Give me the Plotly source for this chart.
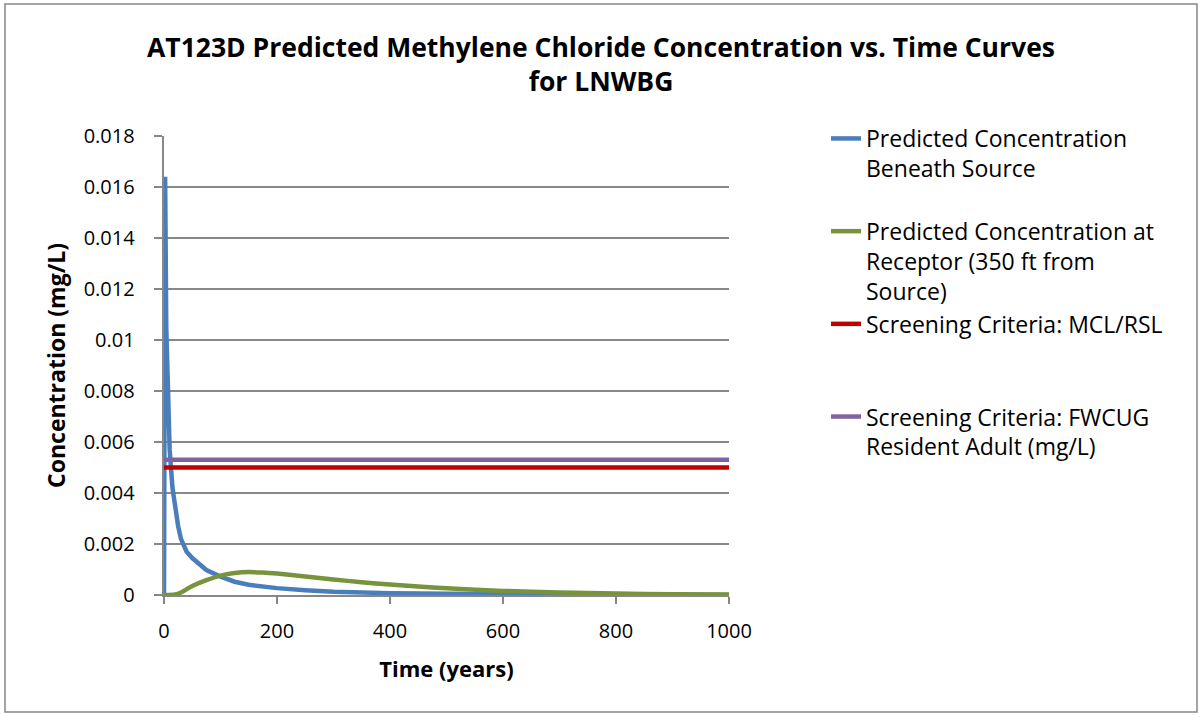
import plotly.graph_objects as go

# ---- data ----
t_source = [0, 2, 4, 6, 8, 10, 15, 20, 25, 30, 40, 50, 75, 100, 125, 150, 200, 250, 300, 400, 500, 600, 700, 800, 900, 1000]
c_source = [0, 0.0164, 0.0105, 0.0083, 0.0069, 0.0057, 0.0042, 0.0033, 0.0027, 0.0022, 0.0017, 0.00145, 0.00098, 0.00072, 0.00052, 0.0004,
            0.00027, 0.00019, 0.00013, 0.00007, 0.00004, 0.00002, 0.00001, 0.000005, 0.000002, 0]
t_receptor = [0, 10, 20, 30, 50, 75, 100, 125, 150, 175, 200, 250, 300, 350, 400, 450, 500, 600, 700, 800, 900, 1000]
c_receptor = [0, 0, 0.00002, 0.0001, 0.00035, 0.00058, 0.00076, 0.00086, 0.0009, 0.00088, 0.00084, 0.00073, 0.00061, 0.0005,
              0.00041, 0.00033, 0.00026, 0.00016, 0.0001, 0.00006, 0.00003, 0.00002]
t_criteria = [0, 1000]
mcl_rsl = [0.005, 0.005]
fwcug = [0.0053, 0.0053]

y_tickvals = [0, 0.002, 0.004, 0.006, 0.008, 0.01, 0.012, 0.014, 0.016, 0.018]
y_ticktext = ["0", "0.002", "0.004", "0.006", "0.008", "0.01", "0.012", "0.014", "0.016", "0.018"]
x_tickvals = [0, 200, 400, 600, 800, 1000]

names = [
    "Predicted Concentration<br>Beneath Source<br> ",
    "Predicted Concentration at<br>Receptor (350 ft from<br>Source)",
    "Screening Criteria: MCL/RSL<br> <br> ",
    "Screening Criteria: FWCUG<br>Resident Adult (mg/L)",
]
colors = ["#4A7EBB", "#77933C", "#C00000", "#8064A2"]

FONT = "Open Sans"
PAD = "\u00a0\u00a0\u00a0"

fig = go.Figure()
fig.add_trace(go.Scatter(x=t_source, y=c_source, mode="lines", name=names[0],
                         line=dict(color=colors[0], width=4.5)))
fig.add_trace(go.Scatter(x=t_receptor, y=c_receptor, mode="lines", name=names[1],
                         line=dict(color=colors[1], width=4.5, shape="spline", smoothing=0.6)))
fig.add_trace(go.Scatter(x=t_criteria, y=mcl_rsl, mode="lines", name=names[2],
                         line=dict(color=colors[2], width=4.5)))
fig.add_trace(go.Scatter(x=t_criteria, y=fwcug, mode="lines", name=names[3],
                         line=dict(color=colors[3], width=4.5)))

L, R, T, B = 164, 1202 - 729, 136, 717 - 595
pw, ph = 729 - 164, 595 - 136

def px(x):
    return (x - L) / pw

def py(y):
    return (595 - y) / ph

fig.update_layout(
    width=1202, height=717,
    margin=dict(l=L, r=R, t=T, b=B, autoexpand=False),
    paper_bgcolor="white", plot_bgcolor="white",
    font=dict(family=FONT, size=20, color="black"),
    title=dict(text="<b>AT123D Predicted Methylene Chloride Concentration vs. Time Curves<br>for LNWBG</b>",
               x=0.5, xanchor="center", xref="container", y=1 - 57 / 717, yanchor="middle", yref="container",
               font=dict(family=FONT, size=26.5, color="black")),
    xaxis=dict(range=[0, 1000], tickvals=x_tickvals, showgrid=False, zeroline=False,
               showline=True, linecolor="#878787", linewidth=1.5,
               ticks="outside", ticklen=7, tickcolor="#878787", tickwidth=1.5,
               tickfont=dict(size=20), ticklabelstandoff=10,
               title=dict(text="<b>Time (years)</b>", font=dict(size=22), standoff=19)),
    yaxis=dict(range=[0, 0.018], tickvals=y_tickvals, ticktext=[t + PAD for t in y_ticktext],
               showgrid=True, gridcolor="#878787", gridwidth=1.5, zeroline=False,
               showline=True, linecolor="#878787", linewidth=1.5,
               ticks="outside", ticklen=8, tickcolor="#878787", tickwidth=1.5,
               tickfont=dict(size=20),
               title=dict(text="<b>Concentration (mg/L)</b>", font=dict(size=23), standoff=12)),
    legend=dict(x=px(826), xanchor="left", y=py(117), yanchor="top",
                font=dict(family=FONT, size=23), valign="top",
                bgcolor="rgba(0,0,0,0)", tracegroupgap=0, itemwidth=30),
    showlegend=True,
    shapes=[dict(type="rect", xref="paper", yref="paper",
                 x0=px(5), x1=px(1197), y0=py(712), y1=py(4),
                 line=dict(color="#878787", width=1.5), fillcolor="rgba(0,0,0,0)", layer="below")],
)

fig.write_html("out.html")
